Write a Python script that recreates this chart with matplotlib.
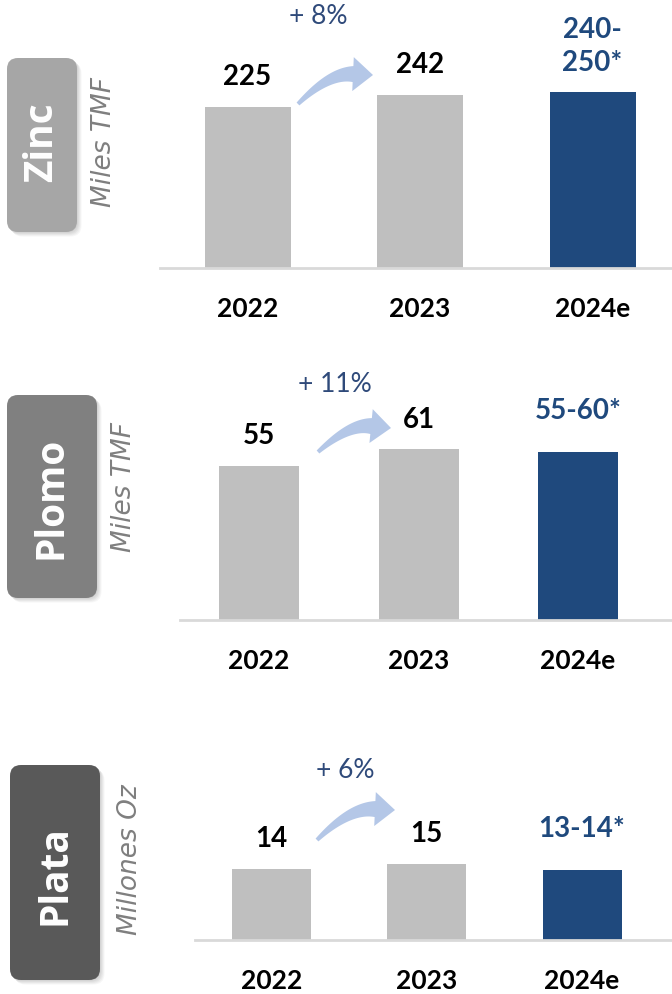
import matplotlib
matplotlib.use("Agg")
import matplotlib.pyplot as plt
import numpy as np
from matplotlib.patches import FancyBboxPatch, Polygon

plt.rcParams['font.family'] = ['Lato', 'DejaVu Sans']

# Datos
years = ['2022', '2023', '2024e']
metals = ['Zinc', 'Plomo', 'Plata']
units = ['Miles TMF', 'Miles TMF', 'Millones Oz']
growth = ['+ 8%', '+ 11%', '+ 6%']

zinc_values = [225, 242, 245]
zinc_labels = ['225', '242', '240-\n250*']
plomo_values = [55, 61, 60]
plomo_labels = ['55', '61', '55-60*']
plata_values = [14, 15, 13.8]
plata_labels = ['14', '15', '13-14*']

values = [zinc_values, plomo_values, plata_values]
labels = [zinc_labels, plomo_labels, plata_labels]

# Colores
grey_bar = '#bfbfbf'
blue = '#1f497d'
pct_color = '#2f4a7a'
arrow_color = '#b4c7e7'
box_colors = ['#a6a6a6', '#808080', '#595959']

# Disposicion en pixeles (imagen 672x994)
W, H = 672, 994
# left, top, bottom, centro barra 0, separacion, ancho barra, px por unidad
axes_px = [(160, 0, 268, 247.5, 172.5, 86, 0.7165),
           (180, 330, 620, 259, 159.5, 80, 2.8),
           (195, 700, 940, 271.5, 155.25, 79, 5.07)]
box_px = [(7, 58, 77, 232), (7, 395, 97, 598), (10, 765, 100, 980)]
box_text_px = [(42, 142), (51, 498), (55, 875)]
unit_text_px = [(104, 142), (124, 487), (130, 860)]
pct_px = [(318, 17), (335, 385), (345, 770)]
arrow_px = [((298, 104), (373, 75)), ((318, 452), (391, 428)), ((317, 840), (395, 810))]
forecast_offset = [12, 20, 20]

fig = plt.figure(figsize=(W / 100, H / 100), dpi=100)

# Capa en pixeles para cajas, textos y flechas
ov = fig.add_axes([0, 0, 1, 1])
ov.set_xlim(0, W)
ov.set_ylim(H, 0)
ov.axis('off')


def curved_arrow(a, b, bend=0.22, w0=4, w1=16, hw=34, hl=20):
    a = np.array(a, float)
    b = np.array(b, float)
    d = b - a
    n = np.array([d[1], -d[0]])
    c = (a + b) / 2 + bend * n
    u = (b - c) / np.linalg.norm(b - c)
    e = b - hl * u
    t = np.linspace(0, 1, 40)[:, None]
    pts = (1 - t) ** 2 * a + 2 * t * (1 - t) * c + t ** 2 * e
    tan = 2 * (1 - t) * (c - a) + 2 * t * (e - c)
    tan = tan / np.linalg.norm(tan, axis=1)[:, None]
    nor = np.column_stack([-tan[:, 1], tan[:, 0]])
    w = (w0 + (w1 - w0) * t) / 2
    left = pts + nor * w
    right = pts - nor * w
    nu = np.array([-u[1], u[0]])
    poly = np.vstack([left, e + nu * hw / 2, b, e - nu * hw / 2, right[::-1]])
    ov.add_patch(Polygon(poly, closed=True, fc=arrow_color, ec='none'))


for k in range(3):
    left, top, bottom, c0, sp, bw, scale = axes_px[k]

    # caja con sombra
    x0, y0, x1, y1 = box_px[k]
    for s in range(1, 6):
        ov.add_patch(FancyBboxPatch((x0 + s * 0.9, y0 + s * 0.9), x1 - x0, y1 - y0,
                                    boxstyle='round,pad=0,rounding_size=11',
                                    fc='black', ec='none', alpha=0.035))
    ov.add_patch(FancyBboxPatch((x0, y0), x1 - x0, y1 - y0,
                                boxstyle='round,pad=0,rounding_size=11',
                                fc=box_colors[k], ec='none'))
    ov.text(*box_text_px[k], metals[k], rotation=90, ha='center', va='center',
            color='white', fontsize=28, fontweight='bold',
            family=['Open Sans', 'DejaVu Sans'])
    ov.text(*unit_text_px[k], units[k], rotation=90, ha='center', va='center',
            color='#7f7f7f', fontsize=19, fontstyle='italic',
            family=['DejaVu Sans'])

    # porcentaje y flecha
    ov.text(*pct_px[k], growth[k], ha='center', va='center', color=pct_color, fontsize=19)
    curved_arrow(*arrow_px[k])

    # barras
    ax = fig.add_axes([left / W, 1 - bottom / H, (W - left) / W, (bottom - top) / H])
    ax.patch.set_alpha(0)
    ax.set_xlim((left - c0) / sp, (W - c0) / sp)
    ax.set_ylim(0, (bottom - top) / scale)
    ax.bar(range(3), values[k], width=bw / sp, color=[grey_bar, grey_bar, blue])
    for i, (v, lab) in enumerate(zip(values[k], labels[k])):
        off = forecast_offset[k] if i == 2 else 12
        ax.annotate(lab, (i, v), xytext=(0, off), textcoords='offset points',
                    ha='center', va='bottom', fontsize=20, fontweight='bold',
                    color=blue if i == 2 else 'black', linespacing=1.3)
    ax.set_xticks(range(3))
    ax.set_xticklabels(years, fontsize=19, fontweight='bold')
    ax.tick_params(axis='x', length=0, pad=21)
    ax.set_yticks([])
    for sp_name in ['top', 'right', 'left']:
        ax.spines[sp_name].set_visible(False)
    ax.spines['bottom'].set_color('#d9d9d9')
    ax.spines['bottom'].set_linewidth(2)

fig.savefig('out.png', dpi=100)
